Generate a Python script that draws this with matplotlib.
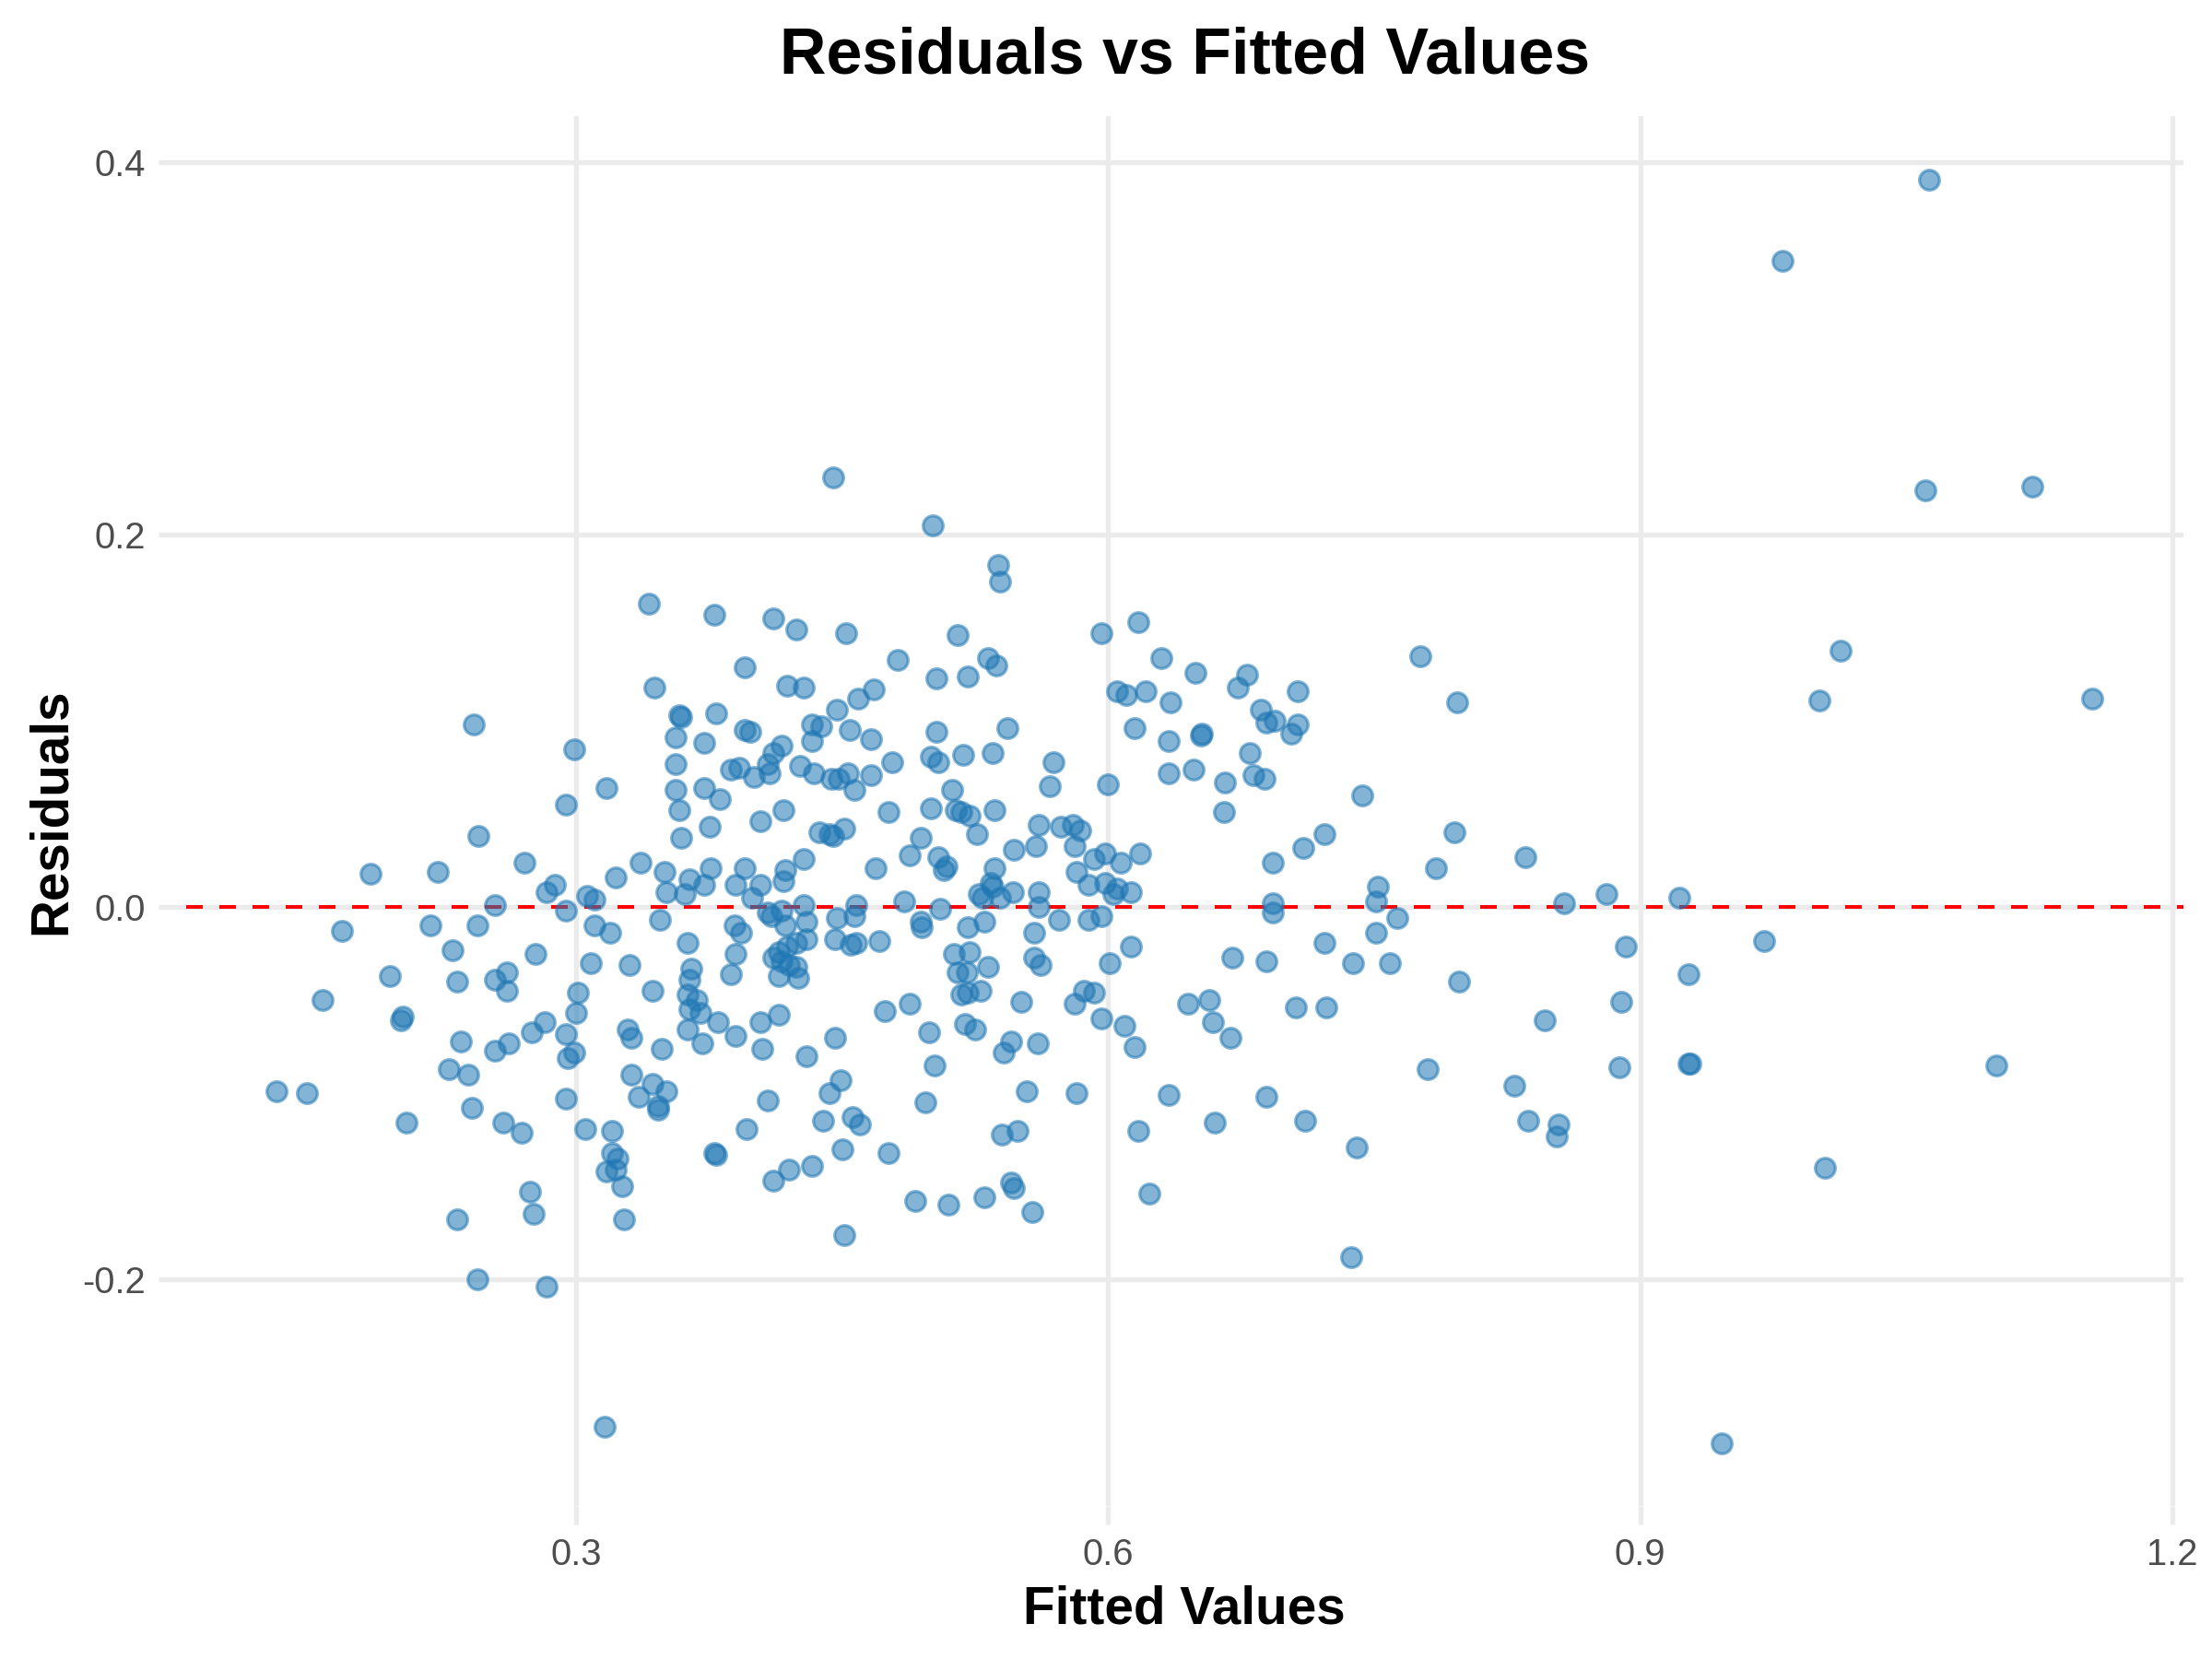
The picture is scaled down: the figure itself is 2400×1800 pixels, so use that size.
import matplotlib.pyplot as plt

plt.rcParams['font.family'] = ['Liberation Sans', 'DejaVu Sans']

# fitted values / residuals
fitted = [
    0.341, 0.344, 0.242, 0.299,
    0.445, 0.501, 0.538, 0.539, 0.378, 0.411, 0.424, 0.452, 0.515, 0.395, 0.481, 0.532, 0.537, 0.503,
    0.521, 0.419, 0.428, 0.468, 0.459, 0.447, 0.358, 0.359, 0.379, 0.395, 0.398, 0.433, 0.438, 0.454,
    0.466, 0.433, 0.503, 0.543, 0.356, 0.372, 0.416, 0.411, 0.408, 0.409, 0.356, 0.387, 0.392, 0.400,
    0.426, 0.434, 0.444, 0.448, 0.453, 0.466, 0.478, 0.500, 0.504, 0.518, 0.535, 0.569,
    0.596, 0.617, 0.630, 0.649, 0.678, 0.673, 0.707, 0.776, 0.797, 0.605, 0.610, 0.621, 0.635, 0.615,
    0.634, 0.653, 0.652, 0.686, 0.689, 0.694, 0.707, 0.703, 0.680, 0.634, 0.648, 0.666, 0.682, 0.688,
    0.600,
    0.317, 0.294, 0.245, 0.184, 0.222, 0.271, 0.336, 0.322, 0.350, 0.351, 0.283, 0.288, 0.254, 0.294,
    0.306, 0.310, 0.168, 0.218, 0.244, 0.310, 0.319, 0.347, 0.230, 0.277, 0.308, 0.330, 0.195, 0.233,
    0.254, 0.261, 0.261, 0.301, 0.343, 0.157, 0.300, 0.202, 0.201, 0.282, 0.275, 0.294, 0.329, 0.331,
    0.348, 0.235, 0.254, 0.262, 0.299, 0.295, 0.331, 0.228, 0.239, 0.343, 0.351, 0.335, 0.294, 0.131,
    0.148, 0.346, 0.346, 0.241,
    0.356, 0.372, 0.381, 0.358, 0.417, 0.404, 0.375, 0.359, 0.457, 0.476, 0.500, 0.512, 0.514, 0.517,
    0.522, 0.536, 0.526, 0.567, 0.437, 0.443, 0.445, 0.451, 0.494, 0.488, 0.561, 0.573, 0.580, 0.581,
    0.559, 0.547, 0.504, 0.509, 0.507, 0.469, 0.428, 0.418, 0.417, 0.395, 0.376, 0.364, 0.372, 0.361,
    0.390, 0.404, 0.399, 0.536, 0.534, 0.535, 0.546, 0.539, 0.527, 0.529, 0.561, 0.561, 0.582, 0.485,
    0.505, 0.458, 0.428, 0.408, 0.410, 0.416, 0.418, 0.430, 0.389, 0.393, 0.447, 0.457, 0.494, 0.495,
    0.521, 0.530, 0.572, 0.558, 0.363, 0.390, 0.430, 0.446, 0.455, 0.458, 0.471, 0.414, 0.419, 0.424,
    0.411, 0.416, 0.420, 0.424, 0.414, 0.425, 0.365, 0.364, 0.387, 0.513, 0.522, 0.515, 0.520, 0.532,
    0.517, 0.521, 0.528, 0.558, 0.562, 0.363, 0.368, 0.364, 0.370, 0.363, 0.380, 0.371, 0.390, 0.404,
    0.414, 0.405, 0.474, 0.488, 0.499, 0.519, 0.525, 0.551, 0.581, 0.446, 0.430, 0.502, 0.545, 0.541,
    0.560, 0.449, 0.443, 0.408, 0.497, 0.554, 0.582,
    0.743, 0.665, 0.795, 0.722, 0.710, 0.693, 0.785, 0.752, 0.751, 0.693, 0.693, 0.763, 0.751, 0.722,
    0.670, 0.689, 0.738, 0.759, 0.798, 0.645, 0.657, 0.706, 0.723, 0.659, 0.669, 0.780, 0.634, 0.689,
    0.584, 0.592, 0.598, 0.607, 0.618, 0.589, 0.598, 0.605, 0.603, 0.613, 0.589, 0.596, 0.613, 0.601,
    0.586, 0.592, 0.596, 0.609, 0.615,
    0.204, 0.259, 0.269, 0.305, 0.320, 0.320, 0.323, 0.317, 0.322, 0.326, 0.327, 0.274, 0.276, 0.233,
    0.244, 0.283, 0.316,
    0.396, 0.378, 0.379, 0.439, 0.456, 0.460, 0.450, 0.476, 0.411, 0.420, 0.433, 0.451, 0.491, 0.510,
    0.530, 0.540, 0.549, 0.545, 0.547, 0.557,
    0.617, 0.660, 0.711, 0.740, 0.623, 0.737,
    1.063, 0.980, 1.061, 1.121, 1.013, 1.001, 1.155,
    0.835, 0.857, 0.881, 0.922, 0.892, 0.970, 0.927, 0.889, 0.846, 0.888, 0.927, 0.928, 1.101, 0.829,
    0.837, 0.854, 0.853, 1.004, 0.946,
]

residuals = [
    0.163, 0.118, 0.098, 0.085,
    0.231, 0.205, 0.184, 0.175, 0.157, 0.155, 0.149, 0.147, 0.146, 0.129, 0.133, 0.134, 0.130, 0.123,
    0.124, 0.119, 0.118, 0.117, 0.112, 0.106, 0.103, 0.102, 0.104, 0.095, 0.094, 0.098, 0.097, 0.095,
    0.090, 0.089, 0.094, 0.096, 0.091, 0.088, 0.087, 0.083, 0.077, 0.072, 0.077, 0.074, 0.075, 0.070,
    0.076, 0.072, 0.069, 0.069, 0.072, 0.071, 0.078, 0.081, 0.078, 0.082, 0.083, 0.078,
    0.147, 0.153, 0.134, 0.126, 0.125, 0.118, 0.116, 0.135, 0.110, 0.116, 0.114, 0.116, 0.110, 0.096,
    0.089, 0.093, 0.092, 0.106, 0.099, 0.100, 0.098, 0.093, 0.083, 0.072, 0.074, 0.067, 0.071, 0.069,
    0.066,
    0.064, 0.055, 0.038, 0.018, 0.019, 0.024, 0.024, 0.016, 0.019, 0.008, 0.008, 0.012, 0.001, -0.002,
    0.006, 0.004, -0.013, -0.010, -0.010, -0.010, -0.014, -0.007, -0.023, -0.025, -0.030, -0.031, -0.037, -0.040,
    -0.039, -0.035, -0.045, -0.046, -0.045, -0.050, -0.057, -0.059, -0.061, -0.062, -0.067, -0.068, -0.066, -0.070,
    -0.076, -0.072, -0.077, -0.073, -0.078, -0.081, -0.090, -0.087, -0.090, -0.095, -0.099, -0.102, -0.103, -0.099,
    -0.100, -0.107, -0.109, -0.108,
    0.063, 0.064, 0.058, 0.052, 0.052, 0.046, 0.043, 0.037, 0.063, 0.051, 0.053, 0.063, 0.052, 0.051,
    0.049, 0.052, 0.039, 0.065, 0.040, 0.039, 0.038, 0.042, 0.037, 0.028, 0.044, 0.043, 0.044, 0.033,
    0.033, 0.031, 0.027, 0.022, 0.020, 0.021, 0.026, 0.020, 0.014, 0.021, 0.021, 0.015, 0.012, 0.007,
    0.012, 0.012, 0.005, 0.021, 0.013, 0.011, 0.008, 0.005, 0.007, 0.005, 0.008, 0.000, 0.019, 0.003,
    -0.001, 0.001, 0.001, -0.003, -0.005, -0.002, -0.010, -0.008, -0.010, -0.014, -0.006, -0.005, -0.008, -0.011,
    -0.011, -0.008, -0.007, -0.014, -0.019, -0.025, -0.017, -0.017, -0.020, -0.019, -0.018, -0.024, -0.021, -0.019,
    -0.027, -0.029, -0.031, -0.032, -0.037, -0.038, -0.033, -0.039, -0.036, -0.025, -0.024, -0.035, -0.035, -0.032,
    -0.047, -0.046, -0.045, -0.027, -0.031, -0.047, -0.050, -0.055, -0.057, -0.066, -0.062, -0.073, -0.069, -0.062,
    -0.058, -0.076, -0.056, -0.052, -0.067, -0.063, -0.066, -0.051, -0.052, -0.070, -0.080, -0.085, -0.072, -0.078,
    -0.073, -0.093, -0.100, -0.104, -0.105, -0.099, -0.100,
    0.060, 0.051, 0.040, 0.039, 0.032, 0.024, 0.021, 0.011, 0.003, 0.002, -0.003, -0.006, -0.014, -0.019,
    -0.027, -0.029, -0.030, -0.030, -0.040, -0.052, -0.050, -0.054, -0.054, -0.062, -0.070, -0.087, -0.101, -0.102,
    0.041, 0.026, 0.029, 0.024, 0.029, 0.012, 0.013, 0.010, 0.007, 0.008, -0.007, -0.005, -0.021, -0.030,
    -0.045, -0.046, -0.060, -0.064, -0.075,
    -0.116, -0.116, -0.121, -0.119, -0.120, -0.132, -0.135, -0.142, -0.141, -0.150, -0.168, -0.153, -0.165, -0.168,
    -0.200, -0.204, -0.279,
    -0.119, -0.132, -0.133, -0.115, -0.113, -0.117, -0.130, -0.132, -0.147, -0.141, -0.139, -0.176, -0.158, -0.160,
    -0.156, -0.122, -0.120, -0.148, -0.151, -0.164,
    -0.120, -0.116, -0.115, -0.129, -0.154, -0.188,
    0.391, 0.347, 0.224, 0.226, 0.138, 0.111, 0.112,
    0.027, 0.002, 0.007, 0.005, -0.021, -0.018, -0.036, -0.051, -0.061, -0.086, -0.084, -0.084, -0.085, -0.096,
    -0.115, -0.117, -0.123, -0.140, -0.288,
]

x_ticks = [0.3, 0.6, 0.9, 1.2]
y_ticks = [-0.2, 0.0, 0.2, 0.4]

fig, ax = plt.subplots(figsize=(10, 7.5), dpi=240)

ax.scatter(fitted, residuals, s=42, color='#1f77b4', alpha=0.55, linewidths=1.0, zorder=3)
ax.axhline(0, color='red', linestyle=(0, (4.5, 4.5)), linewidth=1.2, zorder=2)

ax.set_xticks(x_ticks)
ax.set_yticks(y_ticks)
ax.set_xticklabels(['0.3', '0.6', '0.9', '1.2'])
ax.set_yticklabels(['-0.2', '0.0', '0.2', '0.4'])
ax.tick_params(axis='both', length=6, width=1.6, color='#ebebeb',
               labelsize=12, labelcolor='#4d4d4d', pad=4)
ax.tick_params(axis='y', length=9)
ax.grid(True, color='#ebebeb', linewidth=1.6, zorder=0)
ax.set_axisbelow(True)
for side in ax.spines.values():
    side.set_visible(False)

ax.set_xlabel('Fitted Values', fontsize=17, fontweight='bold', labelpad=4)
ax.set_ylabel('Residuals', fontsize=17, fontweight='bold', labelpad=2)
ax.set_title('Residuals vs Fitted Values', fontsize=21, fontweight='bold', pad=14)

fig.subplots_adjust(left=0.084, right=0.987, top=0.93, bottom=0.092)
fig.savefig('out.png', dpi=240)
